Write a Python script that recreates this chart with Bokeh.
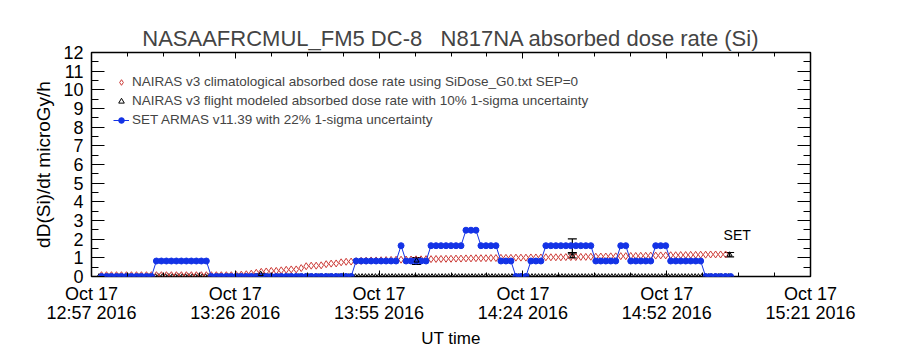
import numpy as np
from bokeh.plotting import figure
from bokeh.models import (Range1d, FixedTicker, LinearAxis, Label, Legend, LegendItem,
                          ColumnDataSource, Whisker, TeeHead)
from bokeh.embed import file_html
from bokeh.resources import INLINE

# ---------------- data (time in minutes after 12:57 UT, Oct 17 2016) ----------------
x_tick_minutes = [0, 28.8, 57.6, 86.4, 115.2, 144.0]
x_tick_labels = ["Oct 17\n12:57 2016", "Oct 17\n13:26 2016", "Oct 17\n13:55 2016",
                 "Oct 17\n14:24 2016", "Oct 17\n14:52 2016", "Oct 17\n15:21 2016"]
x_minor_step = 7.2
y_ticks = list(range(0, 13))
y_minor_step = 0.5

# NAIRAS v3 climatological absorbed dose rate (red diamonds), 1-min cadence from t=2
clim_t0 = 2.0
clim_step = 1.0
clim_values = [
    0.07, 0.07, 0.07, 0.07, 0.07, 0.07, 0.07, 0.07, 0.07, 0.07,
    0.07, 0.07, 0.07, 0.07, 0.07, 0.07, 0.07, 0.07, 0.07, 0.07,
    0.07, 0.07, 0.07, 0.07, 0.07, 0.07, 0.07, 0.08, 0.10, 0.12,
    0.15, 0.20, 0.25, 0.27, 0.30, 0.30, 0.33, 0.36, 0.38, 0.38,
    0.45, 0.55, 0.58, 0.58, 0.60, 0.66, 0.69, 0.70, 0.76, 0.79,
    0.80, 0.82, 0.84, 0.85, 0.86, 0.86, 0.87, 0.88, 0.89, 0.90,
    0.90, 0.91, 0.91, 0.92, 0.92, 0.93, 0.93, 0.94, 0.94, 0.95,
    0.95, 0.96, 0.96, 0.97, 0.97, 0.98, 0.98, 0.98, 0.99, 0.99,
    1.00, 1.00, 1.00, 1.01, 1.01, 1.01, 1.02, 1.02, 1.02, 1.03,
    1.03, 1.03, 1.03, 1.04, 1.04, 1.04, 1.05, 1.05, 1.06, 1.06,
    1.07, 1.07, 1.08, 1.08, 1.09, 1.09, 1.10, 1.10, 1.11, 1.11,
    1.12, 1.12, 1.13, 1.13, 1.14, 1.14, 1.15, 1.15, 1.16, 1.16,
    1.17, 1.17, 1.18, 1.18, 1.18, 1.18,
]

# SET ARMAS v11.39 absorbed dose rate (blue filled circles), 1-min cadence from t=2
set_t0 = 2.0
set_step = 1.0
set_values = [
    0, 0, 0, 0, 0, 0, 0, 0, 0, 0, 0,
    0.83, 0.83, 0.83, 0.83, 0.83, 0.83, 0.83, 0.83, 0.83, 0.83, 0.83,
    0, 0, 0, 0, 0, 0, 0, 0, 0, 0, 0, 0, 0, 0, 0, 0, 0, 0, 0, 0, 0, 0, 0, 0, 0, 0, 0, 0, 0,
    0.83, 0.83, 0.83, 0.83, 0.83, 0.83, 0.83, 0.83, 0.83,
    1.65,
    0.83, 0.83, 0.83, 0.83, 0.83,
    1.65, 1.65, 1.65, 1.65, 1.65, 1.65, 1.65,
    2.48, 2.48, 2.48,
    1.65, 1.65, 1.65, 1.65,
    0.83, 0.83, 0.83,
    0, 0, 0,
    0.83, 0.83, 0.83,
    1.65, 1.65, 1.65, 1.65, 1.65, 1.65, 1.65, 1.65, 1.65, 1.65,
    0.83, 0.83, 0.83, 0.83, 0.83,
    1.65, 1.65,
    0.83, 0.83, 0.83, 0.83, 0.83,
    1.65, 1.65, 1.65,
    0.83, 0.83, 0.83, 0.83, 0.83, 0.83, 0.83,
    0, 0, 0, 0, 0, 0,
]

# NAIRAS v3 flight modeled values at comparison points (10% 1-sigma)
flight_t = [33.9, 65.1, 96.3, 127.8]
flight_values = [0.13, 0.85, 1.10, 1.17]
flight_unc = 0.10

# SET ARMAS comparison points with 22% 1-sigma uncertainty
set_cmp_t = [65.1, 96.3]
set_cmp_values = [0.83, 1.65]
set_unc = 0.22

# flight-modeled samples at zero along the baseline (40 s cadence)
zero_t0 = 1.5
zero_step = 0.667
zero_count = 190

# ---------------- derived arrays ----------------
clim_t = clim_t0 + clim_step * np.arange(len(clim_values))
set_t = set_t0 + set_step * np.arange(len(set_values))
zero_t = zero_t0 + zero_step * np.arange(zero_count)
x_minor = list(np.arange(0, x_tick_minutes[-1] + 0.01, x_minor_step))
y_minor = list(np.arange(0, y_ticks[-1] + 0.01, y_minor_step))

FONT = "Liberation Sans"
BLUE = "#1433e6"
RED = "#cc3a36"

p = figure(width=900, height=350, output_backend="svg", toolbar_location=None,
           x_range=Range1d(0, 144), y_range=Range1d(0, 12),
           min_border_left=91, min_border_right=90, min_border_top=52, min_border_bottom=71,
           background_fill_color="white", border_fill_color="white",
           outline_line_color="black", outline_line_width=1.5)
p.grid.visible = False

NB = "\u00a0"
p.title.text = "NASAAFRCMUL_FM5 DC-8" + NB * 3 + "N817NA absorbed dose rate (Si)"
p.title.align = "center"
p.title.text_font = FONT
p.title.text_font_size = "22px"
p.title.text_font_style = "normal"
p.title.offset = -12
p.title.standoff = 4

# axes
xa = p.xaxis[0]
xa.ticker = FixedTicker(ticks=x_tick_minutes, minor_ticks=x_minor)
xa.major_label_overrides = {t: l for t, l in zip(x_tick_minutes, x_tick_labels)}
xa.axis_label = "UT time"
ya = p.yaxis[0]
ya.ticker = FixedTicker(ticks=y_ticks, minor_ticks=y_minor)
ya.axis_label = "dD(Si)/dt microGy/h"

top_axis = LinearAxis(ticker=FixedTicker(ticks=x_tick_minutes, minor_ticks=x_minor))
right_axis = LinearAxis(ticker=FixedTicker(ticks=y_ticks, minor_ticks=y_minor))
p.add_layout(top_axis, "above")
p.add_layout(right_axis, "right")

for ax in [xa, ya, top_axis, right_axis]:
    ax.axis_line_color = None
    ax.major_tick_out = 0
    ax.minor_tick_out = 0
    ax.major_tick_line_color = "black"
    ax.minor_tick_line_color = "black"
    ax.major_label_text_font = FONT
    ax.major_label_text_color = "black"
    ax.axis_label_text_font = FONT
    ax.axis_label_text_font_style = "normal"
    ax.axis_label_text_color = "black"

for ax in [xa, top_axis]:
    ax.major_tick_in = 6
    ax.minor_tick_in = 4
for ax in [ya, right_axis]:
    ax.major_tick_in = 13
    ax.minor_tick_in = 7

for ax in [top_axis, right_axis]:
    ax.major_label_text_color = None
    ax.major_label_text_font_size = "8px"
    ax.major_label_standoff = 0

xa.major_label_text_font_size = "18px"
xa.major_label_text_line_height = 0.95
xa.major_label_standoff = 7
xa.axis_label_text_font_size = "17px"
xa.axis_label_standoff = 3
ya.major_label_text_font_size = "18px"
ya.major_label_standoff = 8
ya.axis_label_text_font_size = "19px"
ya.axis_label_standoff = 6

# ---------------- glyphs ----------------
zero_src = ColumnDataSource(dict(t=zero_t, v=np.zeros(zero_count)))
p.scatter("t", "v", source=zero_src, marker="triangle", size=5,
          line_color="black", fill_color=None, line_width=1)

clim_src = ColumnDataSource(dict(t=clim_t, v=clim_values))
r_clim = p.scatter("t", "v", source=clim_src, marker="diamond", size=7,
                   line_color=RED, fill_color=None, line_width=1)

set_src = ColumnDataSource(dict(t=set_t, v=set_values))
r_set_line = p.line("t", "v", source=set_src, line_color=BLUE, line_width=1)
r_set = p.scatter("t", "v", source=set_src, marker="circle", size=6,
                  line_color=BLUE, fill_color=BLUE)

fl_src = ColumnDataSource(dict(t=flight_t, v=flight_values,
                               lo=[v * (1 - flight_unc) for v in flight_values],
                               hi=[v * (1 + flight_unc) for v in flight_values]))
r_flight = p.scatter("t", "v", source=fl_src, marker="triangle", size=5,
                     line_color="black", fill_color=None)
p.add_layout(Whisker(source=fl_src, base="t", lower="lo", upper="hi",
                     line_color="black", line_width=1.2,
                     upper_head=TeeHead(size=9, line_color="black", line_width=1.2),
                     lower_head=TeeHead(size=9, line_color="black", line_width=1.2)))

sc_src = ColumnDataSource(dict(t=set_cmp_t, v=set_cmp_values,
                               lo=[v * (1 - set_unc) for v in set_cmp_values],
                               hi=[v * (1 + set_unc) for v in set_cmp_values]))
p.add_layout(Whisker(source=sc_src, base="t", lower="lo", upper="hi",
                     line_color="black", line_width=1.2,
                     upper_head=TeeHead(size=9, line_color="black", line_width=1.2),
                     lower_head=TeeHead(size=9, line_color="black", line_width=1.2)))

p.add_layout(Label(x=flight_t[-1], y=flight_values[-1], text="SET", x_offset=-6, y_offset=12,
                   text_font=FONT, text_font_size="14px", text_color="black"))

legend = Legend(items=[
    LegendItem(label="NAIRAS v3 climatological absorbed dose rate using SiDose_G0.txt SEP=0",
               renderers=[r_clim]),
    LegendItem(label="NAIRAS v3 flight modeled absorbed dose rate with 10% 1-sigma uncertainty",
               renderers=[r_flight]),
    LegendItem(label="SET ARMAS v11.39 with 22% 1-sigma uncertainty", renderers=[r_set_line, r_set]),
], location="top_left")
legend.border_line_color = None
legend.background_fill_alpha = 0
legend.label_text_font = FONT
legend.label_text_font_size = "13.5px"
legend.label_standoff = 3
legend.glyph_width = 16
legend.glyph_height = 14
legend.label_height = 14
legend.spacing = 4
legend.padding = 0
legend.margin = 22
p.add_layout(legend)

open("out.html", "w").write(file_html(p, INLINE))
